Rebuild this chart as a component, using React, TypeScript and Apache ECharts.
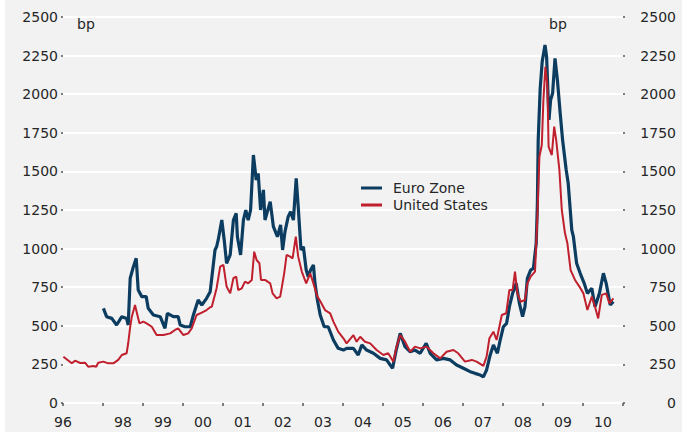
import React, { useEffect, useRef } from "react";
import * as echarts from "echarts";

// Dates as decimal years, spreads in basis points
const euroDates = [1998.01,1998.09,1998.22,1998.34,1998.47,1998.59,1998.63,1998.68,1998.76,1998.83,1998.88,1998.97,1999.08,1999.13,1999.26,1999.43,1999.55,1999.61,1999.76,1999.88,1999.93,2000.05,2000.18,2000.26,2000.38,2000.47,2000.59,2000.68,2000.80,2000.84,2000.88,2000.97,2001.03,2001.09,2001.18,2001.26,2001.33,2001.36,2001.44,2001.51,2001.57,2001.63,2001.69,2001.76,2001.83,2001.88,2001.94,2002.01,2002.05,2002.18,2002.26,2002.36,2002.44,2002.49,2002.55,2002.63,2002.69,2002.76,2002.83,2002.88,2002.95,2003.01,2003.08,2003.13,2003.19,2003.26,2003.30,2003.36,2003.43,2003.53,2003.63,2003.76,2003.88,2004.01,2004.09,2004.26,2004.38,2004.47,2004.59,2004.76,2004.93,2005.09,2005.18,2005.24,2005.33,2005.43,2005.55,2005.68,2005.80,2005.93,2006.08,2006.18,2006.34,2006.51,2006.68,2006.84,2007.01,2007.18,2007.30,2007.43,2007.51,2007.55,2007.59,2007.68,2007.76,2007.86,2007.93,2008.01,2008.09,2008.16,2008.24,2008.33,2008.41,2008.49,2008.55,2008.61,2008.69,2008.76,2008.83,2008.86,2008.88,2008.93,2008.98,2009.05,2009.09,2009.15,2009.19,2009.24,2009.30,2009.36,2009.43,2009.49,2009.58,2009.63,2009.72,2009.76,2009.84,2009.93,2010.03,2010.11,2010.22,2010.30,2010.41,2010.51,2010.58,2010.68,2010.76];
const euroValues = [613,559,548,505,559,548,505,808,883,937,732,689,689,613,570,559,484,581,559,559,505,494,494,570,667,635,678,721,991,1012,1056,1185,1056,905,959,1185,1228,1077,959,1185,1250,1185,1250,1606,1444,1487,1250,1380,1185,1304,1142,1077,1153,991,1110,1207,1239,1185,1455,1272,991,1012,861,818,861,894,775,667,570,494,494,408,354,343,354,354,311,376,343,322,289,279,246,225,343,451,365,332,343,322,387,322,279,289,279,246,225,203,192,181,170,192,214,311,376,322,408,494,516,624,710,775,645,559,624,808,861,872,1034,1293,1703,2038,2211,2319,2243,1833,1962,2006,2232,2092,1876,1703,1509,1423,1120,1077,905,840,775,710,743,624,710,840,775,635,656];

const usDates = [1997.01,1997.22,1997.30,1997.43,1997.55,1997.63,1997.76,1997.83,1997.88,1998.01,1998.13,1998.26,1998.38,1998.47,1998.59,1998.63,1998.68,1998.72,1998.80,1998.84,1998.91,1999.01,1999.09,1999.22,1999.34,1999.51,1999.68,1999.80,1999.88,2000.01,2000.13,2000.22,2000.34,2000.47,2000.59,2000.68,2000.72,2000.84,2000.93,2001.01,2001.09,2001.18,2001.26,2001.33,2001.38,2001.47,2001.55,2001.63,2001.72,2001.78,2001.84,2001.91,2001.95,2002.05,2002.18,2002.24,2002.34,2002.43,2002.53,2002.59,2002.68,2002.74,2002.82,2002.88,2002.97,2003.08,2003.18,2003.26,2003.36,2003.44,2003.55,2003.68,2003.76,2003.88,2004.01,2004.09,2004.26,2004.34,2004.43,2004.55,2004.68,2004.84,2005.01,2005.13,2005.26,2005.34,2005.43,2005.55,2005.68,2005.80,2005.93,2006.09,2006.26,2006.43,2006.59,2006.76,2006.88,2007.05,2007.22,2007.34,2007.51,2007.59,2007.66,2007.76,2007.84,2007.97,2008.08,2008.16,2008.24,2008.30,2008.36,2008.44,2008.55,2008.61,2008.69,2008.80,2008.86,2008.91,2008.97,2009.01,2009.06,2009.11,2009.14,2009.22,2009.28,2009.33,2009.41,2009.47,2009.55,2009.61,2009.69,2009.80,2009.91,2010.01,2010.11,2010.22,2010.30,2010.38,2010.47,2010.58,2010.66,2010.76];
const usValues = [300,257,274,259,261,235,240,235,261,268,257,257,279,311,322,387,494,559,635,591,516,527,516,494,440,440,451,473,484,440,451,484,570,585,602,620,624,743,883,894,754,710,808,818,732,743,786,775,797,980,926,905,797,797,775,710,678,689,840,959,948,937,1077,948,851,775,840,775,689,656,602,581,527,462,419,386,440,397,429,397,386,343,311,322,268,365,440,397,332,365,354,365,322,289,332,343,322,268,279,268,240,300,419,462,408,570,581,732,732,851,710,656,667,775,818,851,1207,1595,1671,1962,2178,2049,1660,1606,1790,1703,1509,1250,1099,1034,861,797,754,710,602,689,624,548,700,710,645,678];

const seriesNames = ["Euro Zone", "United States"];
const yTicks = { min: 0, max: 2500, step: 250 };
const unitLabel = "bp";

const FONT = "DejaVu Sans";
const TEXT = "#262626";
const BLUE = "#0c3d61";
const RED = "#c01f2d";

function zip(a: number[], b: number[]) {
  return a.map((d, i) => [d, b[i]]);
}

export default function App() {
  const ref = useRef<HTMLDivElement>(null);
  useEffect(() => {
    if (!ref.current) return;
    const chart = echarts.init(ref.current, null, { renderer: "svg" });
    const yAxisBase = {
      type: "value",
      min: yTicks.min,
      max: yTicks.max,
      interval: yTicks.step,
      axisLine: { show: false },
      axisTick: { show: true, length: 2, lineStyle: { color: "#555", width: 1.5 } },
    };
    const plain = (v: number) => String(v);
    chart.setOption({
      animation: false,
      backgroundColor: "#ffffff",
      graphic: [
        { type: "rect", z: -10, shape: { x: 5, y: 0, width: 677, height: 432 }, style: { fill: "#f2f2f2" } },
        { type: "text", x: 77, y: 17, style: { text: unitLabel, font: `14px '${FONT}'`, fill: TEXT } },
        { type: "text", x: 549, y: 17, style: { text: unitLabel, font: `14px '${FONT}'`, fill: TEXT } },
      ],
      grid: { left: 63, right: 71, top: 17, bottom: 29, containLabel: false },
      legend: {
        orient: "vertical",
        left: 356,
        top: 175,
        itemWidth: 21,
        itemHeight: 3,
        itemGap: 1,
        icon: "rect",
        textStyle: { fontFamily: FONT, fontSize: 14, color: TEXT, lineHeight: 16, padding: [0, 0, 0, 6] },
        data: seriesNames,
      },
      xAxis: [
        {
          type: "value",
          min: 1997,
          max: 2011,
          interval: 1,
          axisLine: { show: true, lineStyle: { color: "#ffffff", width: 2 } },
          axisTick: { show: true, length: 3, lineStyle: { color: "#555", width: 1.5 } },
          axisLabel: { show: false },
          splitLine: { show: false },
        },
        {
          type: "value",
          position: "bottom",
          min: 0,
          max: 28,
          interval: 1,
          axisLine: { show: false },
          axisTick: { show: false },
          splitLine: { show: false },
          axisLabel: {
            show: true,
            margin: 12,
            fontFamily: FONT,
            fontSize: 14,
            color: TEXT,
            showMinLabel: true,
            showMaxLabel: true,
            formatter: (v: number) => {
              if (v === 0) return "96";
              if (v % 2 === 1 && v >= 3) {
                const yr = 1997 + (v - 1) / 2;
                return String(yr % 100).padStart(2, "0");
              }
              return "";
            },
          },
        },
      ],
      yAxis: [
        {
          ...yAxisBase,
          position: "left",
          axisLabel: { margin: 5, fontFamily: FONT, fontSize: 14, color: TEXT, formatter: plain },
          splitLine: { show: true, lineStyle: { color: "#ffffff", width: 2 } },
        },
        {
          ...yAxisBase,
          position: "right",
          axisLabel: { margin: 53, align: "right", fontFamily: FONT, fontSize: 14, color: TEXT, formatter: plain },
          splitLine: { show: false },
        },
      ],
      series: [
        {
          name: seriesNames[0],
          type: "line",
          xAxisIndex: 0,
          yAxisIndex: 0,
          data: zip(euroDates, euroValues),
          showSymbol: false,
          symbol: "none",
          lineStyle: { color: BLUE, width: 3.2 },
          itemStyle: { color: BLUE },
        },
        {
          name: seriesNames[1],
          type: "line",
          xAxisIndex: 0,
          yAxisIndex: 0,
          data: zip(usDates, usValues),
          showSymbol: false,
          symbol: "none",
          lineStyle: { color: RED, width: 2 },
          itemStyle: { color: RED },
        },
      ],
    });
    return () => chart.dispose();
  }, []);
  return (
    <div
      ref={ref}
      style={{ position: "fixed", left: 0, top: 0, width: 694, height: 432 }}
    />
  );
}
